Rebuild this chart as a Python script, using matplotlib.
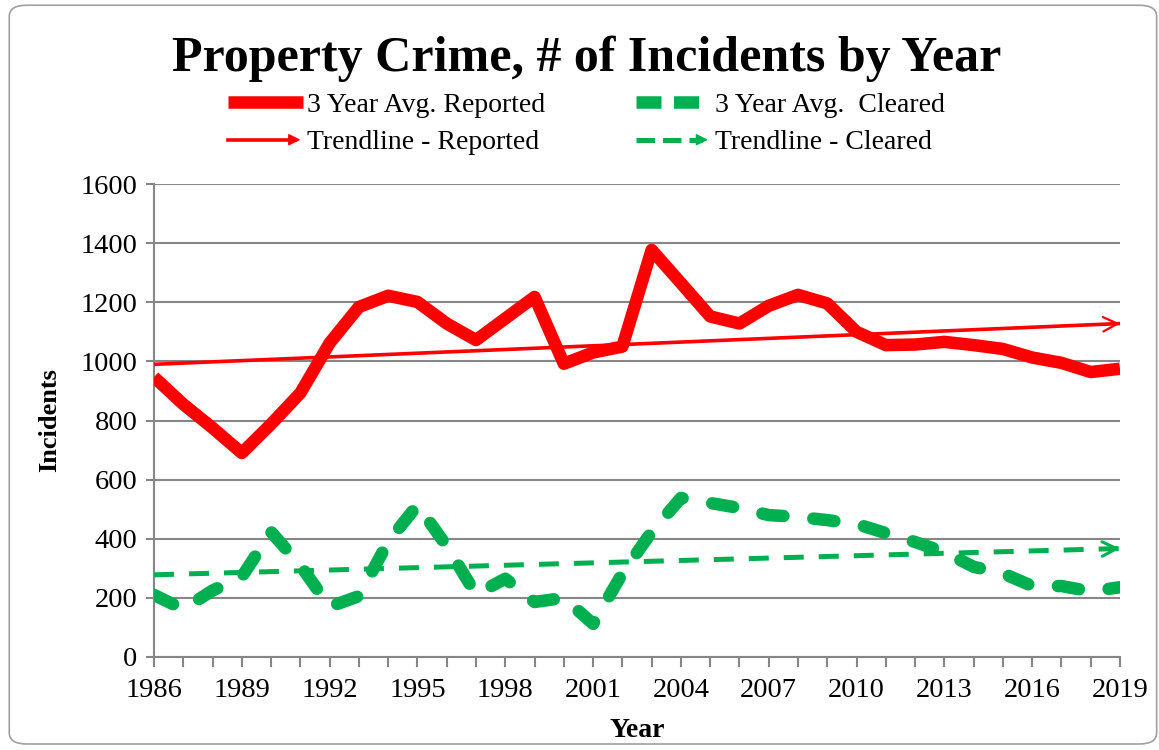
import matplotlib
matplotlib.use("Agg")
import matplotlib.pyplot as plt
from matplotlib.patches import FancyBboxPatch, FancyArrowPatch
from matplotlib.legend_handler import HandlerBase
from matplotlib.lines import Line2D

years = list(range(1986, 2020))
reported = [947, 855, 775, 690, 788, 893, 1062, 1184, 1222, 1201, 1128, 1072, 1145, 1218,
            992, 1030, 1050, 1377, 1265, 1152, 1128, 1188, 1225, 1196, 1100, 1055, 1057,
            1066, 1055, 1042, 1013, 995, 964, 975]
cleared = [210, 162, 225, 271, 423, 310, 170, 206, 390, 514, 375, 212, 265, 186,
           200, 112, 283, 423, 538, 521, 504, 480, 474, 463, 450, 419, 389, 355,
           305, 283, 240, 240, 222, 236]
trend_years = [1986, 2019]
trend_reported = [990, 1128]
trend_cleared = [278, 367]

red = "#FF0000"
green = "#00B050"
grey = "#868686"

plt.rcParams["font.family"] = ["Liberation Serif", "DejaVu Serif"]

fig = plt.figure(figsize=(11.59, 7.5), dpi=100)
ax = fig.add_axes([154 / 1159, 1 - 657 / 750, (1120 - 154) / 1159, (657 - 184) / 750])

# chart border
fig.patches.append(FancyBboxPatch((0.008, 0.008), 0.99, 0.985, boxstyle="round,pad=0,rounding_size=0.015",
                                  transform=fig.transFigure, fc="white", ec="#A0A0A0", lw=1.2, zorder=-10))

ax.plot(years, reported, color=red, lw=9, solid_joinstyle="round", solid_capstyle="butt", zorder=3)
ax.plot(years, cleared, color=green, lw=9, dashes=(1.7, 2.4), dash_capstyle="round",
        dash_joinstyle="round", zorder=3)

# trendlines with arrow heads
ax.plot(trend_years, trend_reported, color=red, lw=2.6, zorder=4)
ax.plot(trend_years, trend_cleared, color=green, lw=3.6, dashes=(4, 3), zorder=4)
for vals, col, lw in [(trend_reported, red, 1.6), (trend_cleared, green, 2.2)]:
    slope = (vals[1] - vals[0]) / (trend_years[1] - trend_years[0])
    ax.annotate("", xy=(trend_years[1], vals[1]),
                xytext=(trend_years[1] - 0.6, vals[1] - 0.6 * slope),
                arrowprops=dict(arrowstyle="->", color=col, lw=lw, mutation_scale=26,
                                shrinkA=0, shrinkB=0), zorder=5)

ax.set_xlim(1986, 2019)
ax.set_ylim(0, 1600)
ax.set_xticks(list(range(1986, 2020, 3)))
ax.set_xticks(years, minor=True)
ax.set_yticks(list(range(0, 1601, 200)))
ax.grid(axis="y", color=grey, lw=1.5, zorder=0)
for s in ["top", "right"]:
    ax.spines[s].set_visible(False)
for s in ["left", "bottom"]:
    ax.spines[s].set_color(grey)
    ax.spines[s].set_linewidth(1.5)
ax.tick_params(axis="both", which="both", color=grey, width=1.5, direction="out", labelsize=20.5)
ax.tick_params(axis="x", which="both", length=7, pad=8)
ax.tick_params(axis="y", length=6, pad=6)
ax.set_xlabel("Year", fontsize=20, fontweight="bold", labelpad=11)
ax.set_ylabel("Incidents", fontsize=19, fontweight="bold", labelpad=14)

fig.text(0.506, 0.922, "Property Crime, # of Incidents by Year", ha="center", va="center",
         fontsize=36, fontweight="bold")


class ArrowHandler(HandlerBase):
    def create_artists(self, legend, orig_handle, xdescent, ydescent, width, height, fontsize, trans):
        y = height / 2 - ydescent
        col = orig_handle.get_color()
        ls = orig_handle.get_linestyle()
        line = Line2D([-xdescent, width - xdescent - 6], [y, y], color=col,
                      lw=orig_handle.get_linewidth(), linestyle=ls, transform=trans)
        head = FancyArrowPatch((width - xdescent - 16, y), (width - xdescent, y), arrowstyle="-|>",
                               mutation_scale=18, color=col, lw=1, transform=trans)
        return [line, head]


h_rep = Line2D([], [], color=red, lw=9, solid_capstyle="butt")
h_clr = Line2D([], [], color=green, lw=9, dashes=(2.0, 1.0), dash_capstyle="butt")
h_trep = Line2D([], [], color=red, lw=2.6)
h_tclr = Line2D([], [], color=green, lw=3.6, dashes=(2, 4))
leg = fig.legend([h_rep, h_trep, h_clr, h_tclr],
                 ["3 Year Avg. Reported", "Trendline - Reported", "3 Year Avg.  Cleared", "Trendline - Cleared"],
                 ncol=2, loc="center", bbox_to_anchor=(0.506, 0.835), frameon=False, fontsize=20,
                 handlelength=2.7, handletextpad=0.15, columnspacing=3.25, labelspacing=0.45,
                 handler_map={h_trep: ArrowHandler(), h_tclr: ArrowHandler()})

fig.savefig("out.png", dpi=100)
